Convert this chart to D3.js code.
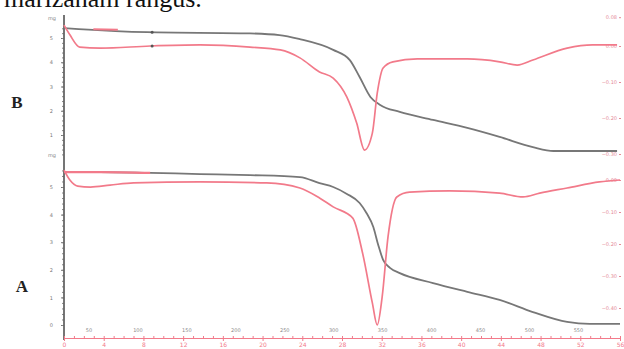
<!DOCTYPE html>
<html>
<head>
<meta charset="utf-8">
<script src="https://cdn.jsdelivr.net/npm/d3@7"></script>
<style>
  body { margin: 0; background: #fff; }
  svg { display: block; }
</style>
</head>
<body>
<div id="root"></div>
<script>
// ****************************************************************
// Datos (temperatura en ºC).

// Panel B - TG (masa) y DTG
const tempTgB = [25, 40, 110, 215, 245, 265, 300, 317, 327, 338, 348, 368, 402, 437, 470, 504, 525, 590];
const massB   = [5.41, 5.37, 5.24, 5.19, 5.12, 4.96, 4.51, 4.09, 3.39, 2.57, 2.24, 1.95, 1.62, 1.29, 0.92, 0.50, 0.34, 0.34];

const tempDtgB = [25, 31, 41, 62, 113, 164, 215, 246, 266, 286, 300, 314, 324, 332, 340, 345, 351, 361, 386, 437, 470, 488, 504, 539, 565, 590];
const dtgB     = [0.058, 0.031, -0.003, -0.006, 0, 0.003, -0.003, -0.011, -0.033, -0.072, -0.089, -0.142, -0.214, -0.289, -0.242, -0.131, -0.061, -0.044, -0.036, -0.036, -0.044, -0.053, -0.039, -0.006, 0.003, 0.003];

// Panel A - TG (masa) y DTG
const tempTgA = [25, 62, 113, 164, 215, 266, 286, 300, 314, 327, 334, 341, 346, 351, 358, 368, 402, 437, 470, 504, 539, 562, 593];
const massA   = [5.54, 5.54, 5.51, 5.47, 5.43, 5.36, 5.14, 5.00, 4.75, 4.42, 4.06, 3.55, 2.90, 2.36, 2.07, 1.88, 1.52, 1.20, 0.91, 0.47, 0.11, 0.04, 0.04];

const tempDtgA = [25, 31, 39, 52, 72, 96, 164, 232, 266, 286, 300, 320, 330, 340, 345, 350, 356, 365, 378, 419, 470, 494, 511, 539, 572, 593];
const dtgA     = [0.031, 0, -0.019, -0.022, -0.016, -0.009, -0.006, -0.009, -0.025, -0.056, -0.084, -0.119, -0.228, -0.384, -0.453, -0.366, -0.178, -0.053, -0.038, -0.034, -0.041, -0.053, -0.041, -0.025, -0.006, 0];

// Ticks
const tempTicks = [50, 100, 150, 200, 250, 300, 350, 400, 450, 500, 550];
const timeTicks = [0, 4, 8, 12, 16, 20, 24, 28, 32, 36, 40, 44, 48, 52, 56];
const massTicksB = [5, 4, 3, 2, 1];
const massTicksA = [5, 4, 3, 2, 1, 0];
const dtgTicksB = [0.08, 0, -0.1, -0.2, -0.3];
const dtgTicksA = [0, -0.1, -0.2, -0.3, -0.4];

// ****************************************************************
const width = 624;
const height = 349;
const gray = "#777777";
const red = "#f27a8a";

const svg = d3.select("#root")
  .append("svg")
    .attr("width", width)
    .attr("height", height)
    .attr("viewBox", `0 0 ${width} ${height}`);

// Pie de figura anterior, cortado arriba
svg.append("text")
    .text("marizanam rangus.")
    .attr("x", 4)
    .attr("y", 7)
    .style("font-family", "Liberation Serif, serif")
    .style("font-size", "26px")
    .attr("fill", "#111");

// Escala común de temperatura
const xScale = d3.scaleLinear()
  .domain([25, 593])
  .range([64, 620]);

const timeScale = d3.scaleLinear()
  .domain([0, 56])
  .range([64, 620]);

// Escalas de cada panel
const yMassB = d3.scaleLinear().domain([0, 5]).range([159.25, 38]);
const yDtgB  = d3.scaleLinear().domain([0, -0.3]).range([46, 154]);
const yMassA = d3.scaleLinear().domain([0, 5]).range([325, 187]);
const yDtgA  = d3.scaleLinear().domain([0, -0.4]).range([180, 308]);

const lineCreator = (yScale) => d3.line()
  .x(d => xScale(d[0]))
  .y(d => yScale(d[1]))
  .curve(d3.curveMonotoneX);

const drawSeries = (temps, values, yScale, color, w) => {
  svg.append("path")
    .datum(d3.zip(temps, values))
      .attr("d", lineCreator(yScale))
      .attr("fill", "none")
      .attr("stroke-width", w)
      .attr("stroke", color)
      .attr("stroke-linejoin", "round");
};

// ****************************************************************
// Ejes izquierdos (masa)
const styleAxis = (g, color, fs) => {
  g.selectAll("text")
    .attr("fill", color)
    .style("font-family", "DejaVu Sans, sans-serif")
    .style("font-size", fs);
  g.selectAll("line").attr("stroke", color);
};

const leftB = svg.append("g")
  .attr("transform", "translate(64,0)")
  .call(d3.axisLeft(yMassB).tickValues(massTicksB).tickSize(3).tickPadding(8).tickFormat(d3.format("d")));
leftB.select(".domain").remove();
styleAxis(leftB, "#777", "5px");

const leftA = svg.append("g")
  .attr("transform", "translate(64,0)")
  .call(d3.axisLeft(yMassA).tickValues(massTicksA).tickSize(3).tickPadding(8).tickFormat(d3.format("d")));
leftA.select(".domain").remove();
styleAxis(leftA, "#777", "5px");

// Ticks menores del eje izquierdo
const minorB = svg.append("g")
  .attr("transform", "translate(64,0)")
  .call(d3.axisLeft(yMassB).tickValues(d3.range(0.2, 5.6, 0.2)).tickSize(2).tickFormat(""));
minorB.select(".domain").remove();
minorB.selectAll("line").attr("stroke", "#888");
const minorA = svg.append("g")
  .attr("transform", "translate(64,0)")
  .call(d3.axisLeft(yMassA).tickValues(d3.range(0, 5.8, 0.2)).tickSize(2).tickFormat(""));
minorA.select(".domain").remove();
minorA.selectAll("line").attr("stroke", "#888");

svg.append("line")
    .attr("x1", 64).attr("x2", 64)
    .attr("y1", 15).attr("y2", 340)
    .attr("stroke", "#666")
    .attr("stroke-width", 1.8);

// Unidades
[[20, "mg"], [157, "mg"]].forEach(([y, t]) => {
  svg.append("text")
      .text(t)
      .attr("x", 52).attr("y", y)
      .attr("text-anchor", "middle")
      .style("font-family", "DejaVu Sans, sans-serif")
      .style("font-size", "5px")
      .attr("fill", "#888");
});

// Ejes derechos (DTG)
const rightB = svg.append("g")
  .attr("transform", "translate(621,0)")
  .call(d3.axisLeft(yDtgB).tickValues(dtgTicksB).tickSize(2).tickPadding(2).tickFormat(d3.format(".2f")));
rightB.select(".domain").remove();
styleAxis(rightB, "#e58a96", "5px");

const rightA = svg.append("g")
  .attr("transform", "translate(621,0)")
  .call(d3.axisLeft(yDtgA).tickValues(dtgTicksA).tickSize(2).tickPadding(2).tickFormat(d3.format(".2f")));
rightA.select(".domain").remove();
styleAxis(rightA, "#e58a96", "5px");

// Eje inferior: temperatura (gris) y tiempo (rojo)
const bottomTemp = svg.append("g")
  .attr("transform", "translate(0,335)")
  .call(d3.axisTop(xScale).tickValues(tempTicks).tickSize(0).tickPadding(3));
bottomTemp.select(".domain").remove();
styleAxis(bottomTemp, "#8a8a8a", "5px");

const bottomTime = svg.append("g")
  .attr("transform", "translate(0,338)")
  .call(d3.axisBottom(timeScale).tickValues(timeTicks).tickSize(3).tickPadding(2));
bottomTime.select(".domain").attr("stroke", red).attr("stroke-width", 1);
styleAxis(bottomTime, red, "6px");

const bottomMinor = svg.append("g")
  .attr("transform", "translate(0,338)")
  .call(d3.axisBottom(timeScale).tickValues(d3.range(0, 57, 1)).tickSize(-2).tickFormat(""));
bottomMinor.select(".domain").remove();
bottomMinor.selectAll("line").attr("stroke", red);

// ****************************************************************
// Curvas
drawSeries(tempTgB, massB, yMassB, gray, 1.8);
drawSeries(tempDtgB, dtgB, yDtgB, red, 1.7);
drawSeries(tempTgA, massA, yMassA, gray, 1.8);
drawSeries(tempDtgA, dtgA, yDtgA, red, 1.7);

// Tramo inicial resaltado en rojo
drawSeries(tempTgA.slice(0, 3), massA.slice(0, 3), yMassA, red, 2.2);
drawSeries([55, 80], [5.36, 5.34], yMassB, red, 1.8);

// Marcadores
svg.append("circle").attr("cx", xScale(115)).attr("cy", yMassB(5.24)).attr("r", 1.5).attr("fill", "#555");
svg.append("circle").attr("cx", xScale(115)).attr("cy", yDtgB(0)).attr("r", 1.5).attr("fill", "#555");

// Etiquetas de panel
[["B", 17, 108], ["A", 22, 292]].forEach(([t, x, y]) => {
  svg.append("text")
      .text(t)
      .attr("x", x).attr("y", y)
      .attr("text-anchor", "middle")
      .style("font-family", "Liberation Serif, serif")
      .style("font-weight", "bold")
      .style("font-size", "17px")
      .attr("fill", "#222");
});
</script>
</body>
</html>
